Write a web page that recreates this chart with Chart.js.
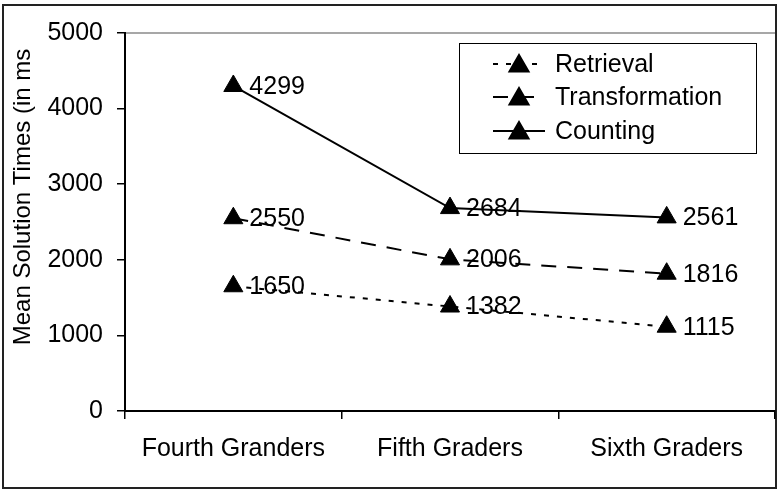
<!DOCTYPE html>
<html>
<head>
<meta charset="utf-8">
<script src="https://cdn.jsdelivr.net/npm/chart.js@4"></script>
<style>
	html, body { margin: 0; padding: 0; background: #fff; }
</style>
</head>
<body>
<canvas id="chart" width="779" height="490"></canvas>
<script>
const grades = ["Fourth Granders", "Fifth Graders", "Sixth Graders"]
const retrieval = [1650, 1382, 1115]
const transformation = [2550, 2006, 1816]
const counting = [4299, 2684, 2561]
const yTitle = "Mean Solution Times (in ms"

const FONT = "'Liberation Sans', Arial, sans-serif"
const SIZE = 25

// outer frame + grey top edge of the plot box
const framePlugin = {
	id: "frame",
	beforeDraw(chart) {
		const c = chart.ctx
		c.save()
		c.fillStyle = "#fff"
		c.fillRect(0, 0, chart.width, chart.height)
		c.strokeStyle = "#222"
		c.lineWidth = 2
		c.strokeRect(3, 5, 773, 483)
		const a = chart.chartArea
		c.strokeStyle = "#8a8a8a"
		c.lineWidth = 1.5
		c.beginPath()
		c.moveTo(a.left, a.top)
		c.lineTo(a.right, a.top)
		c.stroke()
		c.restore()
	},
}

// numbers next to each marker
const valueLabels = {
	id: "valueLabels",
	afterDatasetsDraw(chart) {
		const c = chart.ctx
		c.save()
		c.font = SIZE + "px " + FONT
		c.fillStyle = "#000"
		c.textAlign = "left"
		c.textBaseline = "middle"
		chart.data.datasets.forEach((ds, i) => {
			chart.getDatasetMeta(i).data.forEach((pt, j) => {
				c.fillText(String(ds.data[j]), pt.x + 16, pt.y + 1)
			})
		})
		c.restore()
	},
}

// boxed legend in the top right
const legendBox = {
	id: "legendBox",
	afterDraw(chart) {
		const c = chart.ctx
		const rows = [64, 97, 131]
		c.save()
		c.fillStyle = "#fff"
		c.fillRect(459, 43, 297, 110)
		c.strokeStyle = "#000"
		c.lineWidth = 1
		c.strokeRect(459.5, 43.5, 297, 110)
		chart.data.datasets.forEach((ds, i) => {
			const y = rows[i]
			c.strokeStyle = "#000"
			c.lineWidth = 2
			c.setLineDash(ds.borderDash || [])
			c.beginPath()
			c.moveTo(493, y)
			c.lineTo(545, y)
			c.stroke()
			c.setLineDash([])
			c.fillStyle = "#000"
			Chart.helpers.drawPoint(c, { pointStyle: "triangle", radius: 11, borderWidth: 1 }, 519, y + 2)
			c.fill()
			c.font = SIZE + "px " + FONT
			c.textAlign = "left"
			c.textBaseline = "middle"
			c.fillText(ds.label, 555, y + 1)
		})
		c.restore()
	},
}

// rotated y title, sits a bit above the axis centre like the original
const yTitlePlugin = {
	id: "yTitle",
	afterDraw(chart) {
		const c = chart.ctx
		c.save()
		c.translate(23, 197)
		c.rotate(-Math.PI / 2)
		c.font = "24px " + FONT
		c.fillStyle = "#000"
		c.textAlign = "center"
		c.textBaseline = "middle"
		c.fillText(yTitle, 0, 0)
		c.restore()
	},
}

const line = (label, data, dash) => ({
	label,
	data,
	borderColor: "#000",
	backgroundColor: "#000",
	borderWidth: 2,
	borderDash: dash,
	pointStyle: "triangle",
	pointRadius: 11,
	pointHoverRadius: 11,
	pointBackgroundColor: "#000",
	pointBorderColor: "#000",
	pointBorderWidth: 1,
	tension: 0,
})

new Chart(document.getElementById("chart"), {
	type: "line",
	data: {
		labels: grades,
		datasets: [
			line("Retrieval", retrieval, [5, 8]),
			line("Transformation", transformation, [15, 11]),
			line("Counting", counting, []),
		],
	},
	options: {
		responsive: false,
		animation: false,
		devicePixelRatio: 1,
		layout: { autoPadding: false, padding: { left: 3, top: 33, right: 4, bottom: 2 } },
		plugins: {
			legend: { display: false },
			tooltip: { enabled: false },
		},
		scales: {
			x: {
				offset: true,
				grid: {
					offset: true,
					drawOnChartArea: false,
					drawTicks: true,
					tickLength: 8,
					color: "#000",
					lineWidth: 1.5,
				},
				border: { color: "#000", width: 2 },
				ticks: {
					color: "#000",
					font: { family: FONT, size: SIZE },
					padding: 15,
					maxRotation: 0,
				},
				afterFit: (s) => {
					s.height = 77
					s.paddingLeft = 0
					s.paddingRight = 0
				},
			},
			y: {
				min: 0,
				max: 5000,
				grid: {
					drawOnChartArea: false,
					drawTicks: true,
					tickLength: 8,
					color: "#000",
					lineWidth: 1.5,
				},
				border: { color: "#000", width: 2 },
				ticks: {
					stepSize: 1000,
					color: "#000",
					font: { family: FONT, size: SIZE },
					padding: 14,
					callback: (v) => String(v),
				},
				afterFit: (s) => { s.width = 122 },
			},
		},
	},
	plugins: [framePlugin, valueLabels, legendBox, yTitlePlugin],
})
</script>
</body>
</html>
